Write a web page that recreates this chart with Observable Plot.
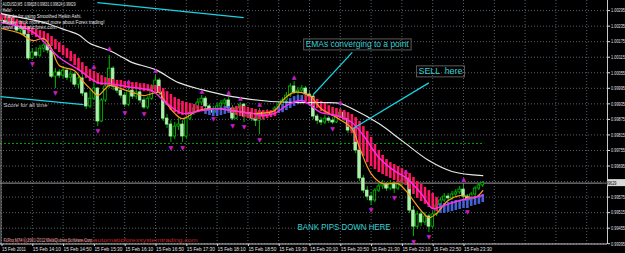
<!DOCTYPE html>
<html><head><meta charset="utf-8">
<script src="https://cdn.jsdelivr.net/npm/d3@7"></script>
<script src="https://cdn.jsdelivr.net/npm/@observablehq/plot@0.6"></script>
<style>html,body{margin:0;padding:0;background:#000;overflow:hidden}</style>
</head><body><div id="chart"></div>
<script>
// ---- AUDUSD M5 candles (bar 0 = 15 Feb 13:30, 5-minute bars) ----
const opens = [1.00264,1.00256,1.00249,1.00264,1.00241,1.00218,1.00226,1.00202,1.00110,1.00133,
1.00121,1.00148,1.00160,1.00141,1.00040,1.00056,1.00044,1.00063,1.00036,1.00048,
1.00009,1.00033,0.99975,0.99925,0.99955,0.99994,0.99867,0.99948,1.00002,1.00071,
1.00002,0.99986,0.99967,0.99932,0.99986,0.99963,0.99979,0.99948,0.99921,0.99955,
0.99994,1.00025,0.99979,0.99878,0.99855,0.99809,0.99847,0.99855,0.99809,0.99878,
0.99901,0.99917,0.99940,0.99955,0.99925,0.99909,0.99901,0.99925,0.99936,0.99948,
0.99917,0.99878,0.99917,0.99932,0.99886,0.99901,0.99878,0.99870,0.99901,0.99886,
0.99901,0.99894,0.99917,0.99932,0.99948,0.99967,1.00002,0.99979,0.99986,0.99994,
0.99971,0.99963,0.99886,0.99870,0.99863,0.99878,0.99870,0.99863,0.99886,0.99901,
0.99878,0.99832,0.99840,0.99755,0.99647,0.99600,0.99577,0.99562,0.99600,0.99616,
0.99624,0.99608,0.99627,0.99608,0.99624,0.99639,0.99647,0.99523,0.99461,0.99508,
0.99477,0.99500,0.99461,0.99508,0.99543,0.99562,0.99577,0.99570,0.99585,0.99593,
0.99604,0.99577,0.99562,0.99585,0.99608,0.99620];
const highs = [1.00272,1.00264,1.00272,1.00268,1.00245,1.00233,1.00229,1.00206,1.00148,1.00152,
1.00160,1.00171,1.00168,1.00144,1.00071,1.00067,1.00079,1.00071,1.00063,1.00056,
1.00044,1.00048,0.99979,0.99986,1.00056,0.99998,0.99955,1.00017,1.00121,1.00079,
1.00009,0.99998,0.99979,1.00002,0.99994,0.99990,0.99986,0.99959,0.99963,1.00009,
1.00048,1.00033,0.99986,0.99894,0.99870,0.99863,0.99878,0.99870,0.99890,0.99917,
0.99932,0.99955,0.99967,0.99963,0.99932,0.99925,0.99936,0.99948,0.99955,0.99959,
0.99928,0.99925,0.99940,0.99936,0.99913,0.99909,0.99898,0.99917,0.99909,0.99913,
0.99909,0.99925,0.99944,0.99959,0.99979,1.00013,1.00021,0.99998,1.00006,1.00002,
0.99982,0.99971,0.99894,0.99882,0.99890,0.99886,0.99882,0.99901,0.99921,0.99909,
0.99886,0.99855,0.99847,0.99763,0.99658,0.99616,0.99593,0.99608,0.99627,0.99639,
0.99631,0.99639,0.99635,0.99635,0.99651,0.99658,0.99651,0.99539,0.99519,0.99519,
0.99516,0.99508,0.99519,0.99554,0.99573,0.99589,0.99589,0.99597,0.99604,0.99616,
0.99624,0.99585,0.99593,0.99616,0.99627,0.99635];
const lows = [1.00249,1.00241,1.00241,1.00233,1.00210,1.00206,1.00191,1.00102,1.00106,1.00110,
1.00114,1.00133,1.00129,1.00033,0.99994,1.00033,1.00033,1.00025,1.00017,0.99998,
0.99994,0.99963,0.99913,0.99917,0.99948,0.99847,0.99863,0.99940,0.99994,0.99986,
0.99975,0.99955,0.99921,0.99925,0.99952,0.99952,0.99936,0.99913,0.99913,0.99948,
0.99986,0.99967,0.99867,0.99840,0.99786,0.99797,0.99832,0.99786,0.99801,0.99870,
0.99890,0.99909,0.99928,0.99909,0.99894,0.99894,0.99898,0.99917,0.99925,0.99909,
0.99870,0.99874,0.99909,0.99863,0.99878,0.99867,0.99847,0.99816,0.99870,0.99878,
0.99882,0.99886,0.99909,0.99925,0.99940,0.99959,0.99971,0.99967,0.99975,0.99959,
0.99952,0.99874,0.99855,0.99851,0.99855,0.99859,0.99855,0.99859,0.99878,0.99867,
0.99820,0.99820,0.99743,0.99635,0.99589,0.99562,0.99543,0.99554,0.99593,0.99604,
0.99597,0.99600,0.99589,0.99600,0.99616,0.99627,0.99512,0.99423,0.99450,0.99461,
0.99465,0.99438,0.99454,0.99500,0.99535,0.99554,0.99558,0.99562,0.99573,0.99585,
0.99570,0.99539,0.99554,0.99577,0.99600,0.99612];
const closes = [1.00256,1.00249,1.00264,1.00241,1.00218,1.00226,1.00202,1.00110,1.00133,1.00121,
1.00148,1.00160,1.00141,1.00040,1.00056,1.00044,1.00063,1.00036,1.00048,1.00009,
1.00033,0.99975,0.99925,0.99955,0.99994,0.99867,0.99948,1.00002,1.00071,1.00002,
0.99986,0.99967,0.99932,0.99986,0.99963,0.99979,0.99948,0.99921,0.99955,0.99994,
1.00025,0.99979,0.99878,0.99855,0.99809,0.99847,0.99855,0.99809,0.99878,0.99901,
0.99917,0.99940,0.99955,0.99925,0.99909,0.99901,0.99925,0.99936,0.99948,0.99917,
0.99878,0.99917,0.99932,0.99886,0.99901,0.99878,0.99870,0.99901,0.99886,0.99901,
0.99894,0.99917,0.99932,0.99948,0.99967,1.00002,0.99979,0.99986,0.99994,0.99971,
0.99963,0.99886,0.99870,0.99863,0.99878,0.99870,0.99863,0.99886,0.99901,0.99878,
0.99832,0.99840,0.99755,0.99647,0.99600,0.99577,0.99562,0.99600,0.99616,0.99624,
0.99608,0.99627,0.99608,0.99624,0.99639,0.99647,0.99523,0.99461,0.99508,0.99477,
0.99500,0.99461,0.99508,0.99543,0.99562,0.99577,0.99570,0.99585,0.99593,0.99604,
0.99577,0.99562,0.99585,0.99608,0.99620,0.99629];

// ---- Smoothed Heikin Ashi (open / close per bar) ----
const haOpen = [1.00280,1.00276,1.00272,1.00268,1.00260,1.00253,1.00245,1.00233,1.00226,1.00222,
1.00218,1.00214,1.00206,1.00195,1.00183,1.00171,1.00160,1.00148,1.00137,1.00125,
1.00110,1.00094,1.00079,1.00067,1.00060,1.00052,1.00044,1.00036,1.00033,1.00029,
1.00025,1.00025,1.00021,1.00021,1.00017,1.00017,1.00013,1.00013,1.00009,1.00006,
1.00006,1.00002,0.99994,0.99982,0.99971,0.99959,0.99952,0.99944,0.99940,0.99936,
0.99932,0.99928,0.99925,0.99894,0.99890,0.99886,0.99886,0.99890,0.99894,0.99898,
0.99921,0.99925,0.99928,0.99925,0.99921,0.99917,0.99913,0.99909,0.99909,0.99909,
0.99909,0.99913,0.99898,0.99901,0.99909,0.99917,0.99925,0.99932,0.99940,0.99967,
0.99963,0.99959,0.99952,0.99944,0.99936,0.99928,0.99921,0.99917,0.99913,0.99909,
0.99901,0.99894,0.99882,0.99867,0.99847,0.99828,0.99805,0.99778,0.99755,0.99736,
0.99720,0.99708,0.99701,0.99693,0.99685,0.99677,0.99666,0.99651,0.99635,0.99624,
0.99612,0.99600,0.99589,0.99573,0.99512,0.99512,0.99516,0.99519,0.99523,0.99527,
0.99531,0.99531,0.99539,0.99543,0.99547,0.99554];
const haClose = [1.00256,1.00253,1.00249,1.00241,1.00233,1.00226,1.00218,1.00206,1.00199,1.00191,
1.00187,1.00179,1.00171,1.00156,1.00144,1.00133,1.00121,1.00110,1.00098,1.00083,
1.00063,1.00048,1.00033,1.00021,1.00017,1.00009,1.00006,1.00006,1.00006,1.00002,
0.99998,0.99998,0.99994,0.99994,0.99990,0.99990,0.99986,0.99982,0.99982,0.99979,
0.99979,0.99975,0.99948,0.99928,0.99909,0.99901,0.99894,0.99890,0.99890,0.99894,
0.99898,0.99901,0.99905,0.99917,0.99917,0.99917,0.99917,0.99921,0.99925,0.99925,
0.99898,0.99890,0.99886,0.99882,0.99878,0.99878,0.99874,0.99874,0.99874,0.99878,
0.99882,0.99886,0.99925,0.99932,0.99944,0.99955,0.99963,0.99967,0.99967,0.99944,
0.99936,0.99925,0.99917,0.99905,0.99898,0.99894,0.99886,0.99882,0.99878,0.99870,
0.99844,0.99820,0.99786,0.99755,0.99732,0.99708,0.99693,0.99681,0.99670,0.99662,
0.99654,0.99647,0.99639,0.99631,0.99627,0.99620,0.99604,0.99585,0.99570,0.99558,
0.99547,0.99535,0.99527,0.99519,0.99550,0.99550,0.99554,0.99558,0.99562,0.99562,
0.99566,0.99570,0.99573,0.99577,0.99581,0.99585];

// ---- moving averages (bar index, value) ----
const magentaBar = [0,8,15,20,25,28,34,39,43,47,52,56,60,65,68,71,74,78,83,87,91,94,98,102,105,109,112,115,119,125];
const magentaVal = [1.00249,1.00214,1.00114,1.00067,1.00017,1.00013,0.99998,0.99986,0.99936,0.99898,
0.99909,0.99917,0.99909,0.99898,0.99890,0.99898,0.99928,0.99948,0.99901,0.99890,
0.99863,0.99813,0.99728,0.99677,0.99651,0.99589,0.99531,0.99543,0.99562,0.99581];
const orangeBar = [0,5,8,11,13,15,19,21,23,25,27,28,31,34,37,41,42,45,47,51,55,60,65,67,71,73,76,80,83,87,91,93,96,99,103,105,109,111,113,116,119,123,125];
const orangeVal = [1.00226,1.00206,1.00179,1.00187,1.00148,1.00083,1.00063,1.00025,0.99994,0.99967,
0.99994,1.00006,0.99994,0.99979,0.99967,0.99979,0.99955,0.99898,0.99878,0.99909,
0.99917,0.99909,0.99898,0.99898,0.99909,0.99948,0.99979,0.99967,0.99917,0.99882,
0.99840,0.99766,0.99666,0.99627,0.99627,0.99600,0.99523,0.99496,0.99512,0.99562,
0.99581,0.99573,0.99600];
const whiteBar = [0,5,11,17,20,23,28,32,34,40,46,52,60,70,78,84,88,91,98,104,111,117,125];
const whiteVal = [1.00283,1.00268,1.00249,1.00218,1.00202,1.00168,1.00141,1.00110,1.00094,1.00067,
1.00017,0.99990,0.99963,0.99944,0.99940,0.99940,0.99936,0.99917,0.99859,0.99793,
0.99716,0.99674,0.99658];

// ---- fractal arrows ----
const fracUpBar = [24,28,33,40,52,59,62,67,76,88,105,120];
const fracUpVal = [1.00079,1.00152,1.00021,1.00067,0.99986,0.99979,0.99959,0.99936,1.00040,0.99940,0.99677,0.99643];
const fracDnBar = [8,14,25,32,37,44,47,55,60,63,67,86,96,102,107,111,121];
const fracDnVal = [1.00087,0.99975,0.99828,0.99901,0.99894,0.99766,0.99766,0.99878,0.99851,0.99844,0.99797,0.99836,0.99523,0.99570,0.99403,0.99419,0.99519];

// ---- drawn objects (cyan lines) ----
const segBar1 = [24.9, -0.26, 91.1, 111.0];
const segVal1 = [1.00326, 0.99963, 1.00134, 1.00016];
const segBar2 = [62.9, 21.3, 81.0, 91.1];
const segVal2 = [1.00268, 0.99932, 0.99971, 0.99838];

const annoText = ["EMAs converging to a point", "SELL\u2002here", "BANK PIPS DOWN HERE"];
const annoBar = [79, 108.3, 76.9];
const annoVal = [1.00164, 1.00060, 0.99458];
const annoBoxed = [true, true, false];
const annoWidth = [103, 44, 93];

const dayOpenLevel = 0.99782;
const lastPrice = 0.99629;

// ---- axes ----
const priceTicks = [0.99395,0.99455,0.99515,0.99575,0.99635,0.99695,0.99755,0.99815,0.99875,0.99935,0.99995,1.00055,1.00115,1.00175,1.00235,1.00295];
const timeTicks = [0,8,16,24,32,40,48,56,64,72,80,88,96,104,112,120];
const timeLabels = ["15 Feb 2011","15 Feb 14:10","15 Feb 14:50","15 Feb 15:30","15 Feb 16:10","15 Feb 16:50","15 Feb 17:30","15 Feb 18:10","15 Feb 18:50","15 Feb 19:30","15 Feb 20:10","15 Feb 20:50","15 Feb 21:30","15 Feb 22:10","15 Feb 22:50","15 Feb 23:30"];
const gridBars = [0,8,16,24,32,40,48,56,64,72,80,88,96,104,112,120,128,136,144,152];

const infoLines = ["AUDUSD,M5  0.99628 0.99631 0.99624 0.99629","Hello!","Thanks for using Smoothed Heikin Ashi.","Please think more and more about Forex trading!","www.automaticforex.com"];
const infoWidth = [73, 9, 79, 102, 54];

// ---- build tables ----
const bars = closes.map((c, i) => ({i, open: opens[i], high: highs[i], low: lows[i], close: c}));
const ha = haOpen.map((o, i) => ({i, o, c: haClose[i]}));
const pts = (b, v) => b.map((x, k) => ({i: x, v: v[k]}));
const segs = segBar1.map((b, k) => ({x1: b, y1: segVal1[k], x2: segBar2[k], y2: segVal2[k]}));
const annos = annoText.map((t, k) => ({t, i: annoBar[k], v: annoVal[k], boxed: annoBoxed[k], w: annoWidth[k]}));

const xDomain = [-0.26, 157.4];
const yDomain = [0.99392, 1.00334];
const FONT = "Liberation Sans, Arial, sans-serif";
const gridColor = "#55606a";
const fmtPrice = d => d.toFixed(5);

const infoMarks = infoLines.map((t, k) => Plot.text([t], {
  frameAnchor: "top-left", dx: 2, dy: 4 + k * 5.75, text: d => d, lineAnchor: "middle",
  textAnchor: "start", fontSize: 5.5, fill: "#e8e8e8"
}));

const chart = Plot.plot({
  width: 625, height: 253,
  marginTop: 0, marginRight: 18, marginBottom: 9, marginLeft: 0,
  x: {domain: xDomain},
  y: {domain: yDomain},
  style: {background: "#000", color: "#e0e0e0", fontFamily: FONT},
  marks: [
    Plot.ruleY(priceTicks, {stroke: gridColor, strokeDasharray: "1,2"}),
    Plot.ruleX(gridBars, {stroke: gridColor, strokeDasharray: "1,2"}),
    Plot.ruleY([dayOpenLevel], {x1: xDomain[0], x2: closes.length - 0.5, stroke: "#00a000", strokeDasharray: "2,2"}),
    Plot.ruleY([lastPrice], {stroke: "#9a9a9a"}),
    Plot.ruleX([xDomain[1]], {stroke: "#c8c8c8"}),
    Plot.ruleX([xDomain[0]], {stroke: "#8a8a8a", dx: 0.5}),
    Plot.ruleY([yDomain[0]], {stroke: "#c8c8c8", dy: -0.5}),
    Plot.axisY(priceTicks.filter(p => p !== 0.99635), {anchor: "right", tickSize: 2, tickPadding: 1.5, fontSize: 5.6, tickFormat: fmtPrice}),
    Plot.axisX(timeTicks, {anchor: "bottom", tickSize: 2, tickPadding: 1, fontSize: 5.2, textAnchor: "start", dx: 0.5, tickFormat: d => timeLabels[timeTicks.indexOf(d)]}),
    // candles
    Plot.ruleX(bars, {x: "i", y1: "low", y2: "high", stroke: "#00b400", strokeWidth: 1}),
    Plot.rect(bars, {
      x1: d => d.i - 0.33, x2: d => d.i + 0.33, y1: "open", y2: "close",
      fill: d => d.close < d.open ? "#aaf2aa" : "#000000",
      stroke: d => d.close < d.open ? "#aaf2aa" : "#00c800", strokeWidth: 0.8
    }),
    // smoothed heikin ashi
    Plot.ruleX(ha, {x: "i", y1: "o", y2: "c", stroke: d => d.c < d.o ? "#ff1660" : "#4462d6", strokeWidth: 2.6}),
    // moving averages
    Plot.line(pts(whiteBar, whiteVal), {x: "i", y: "v", stroke: "#e6e6e6", strokeWidth: 1.2, curve: "catmull-rom"}),
    Plot.line(pts(orangeBar, orangeVal), {x: "i", y: "v", stroke: "#ff9c1a", strokeWidth: 1.2, curve: "catmull-rom"}),
    Plot.line(pts(magentaBar, magentaVal), {x: "i", y: "v", stroke: "#ff2cf0", strokeWidth: 1.4, curve: "catmull-rom"}),
    // fractals
    Plot.text(pts(fracUpBar, fracUpVal), {x: "i", y: "v", text: () => "\u25B2", fill: "#c81ec8", fontSize: 6, fontFamily: "DejaVu Sans"}),
    Plot.text(pts(fracDnBar, fracDnVal), {x: "i", y: "v", text: () => "\u25BC", fill: "#c81ec8", fontSize: 6, fontFamily: "DejaVu Sans"}),
    // cyan objects
    Plot.link(segs, {x1: "x1", y1: "y1", x2: "x2", y2: "y2", stroke: "#18d4e4", strokeWidth: 1.2}),
    Plot.text(annos, {x: "i", y: "v", text: "t", textAnchor: "start", fill: "#38cfd2", fontSize: 9, fontFamily: FONT}),
    // screen labels
    ...infoMarks,
    Plot.text(["Score for all time"], {frameAnchor: "top-left", dx: 3, dy: 105, text: d => d, textAnchor: "start", lineAnchor: "middle", fontSize: 6, fill: "#c8c8c8"}),
    Plot.text(["Copyright \u00A9 2009 http://www.automaticforexsystemtrading.com"], {frameAnchor: "bottom-left", dx: 3, dy: -4.5, text: d => d, textAnchor: "start", lineAnchor: "middle", fontSize: 6, fill: "#c42828"}),
    Plot.text(["FxPro MT4 \u00A9 2001-2011 MetaQuotes Software Corp."], {frameAnchor: "bottom-left", dx: 3, dy: -3.8, text: d => d, textAnchor: "start", lineAnchor: "middle", fontSize: 5, fill: "#a8a8a8"})
  ]
});

document.getElementById("chart").appendChild(chart);

// fit text widths to the screenshot's narrow font
const widths = new Map();
annos.forEach(a => widths.set(a.t, a.w));
infoLines.forEach((t, k) => widths.set(t, infoWidth[k]));
widths.set("Score for all time", 44);
widths.set("Copyright \u00A9 2009 http://www.automaticforexsystemtrading.com", 194);
widths.set("FxPro MT4 \u00A9 2001-2011 MetaQuotes Software Corp.", 90);
timeLabels.forEach((t, k) => widths.set(t, k === 0 ? 24 : 28));
priceTicks.forEach(p => widths.set(fmtPrice(p), 14));
widths.set(fmtPrice(lastPrice), 14);
d3.select(chart).selectAll("text").each(function () {
  const w = widths.get(this.textContent);
  if (w) { this.setAttribute("textLength", w); this.setAttribute("lengthAdjust", "spacingAndGlyphs"); }
});
// boxes round the boxed annotations
const boxedSet = new Set(annos.filter(a => a.boxed).map(a => a.t));
d3.select(chart).selectAll("text").each(function () {
  if (!boxedSet.has(this.textContent)) return;
  const bb = this.getBBox();
  const r = document.createElementNS("http://www.w3.org/2000/svg", "rect");
  r.setAttribute("x", bb.x - 2); r.setAttribute("y", bb.y - 0.5);
  r.setAttribute("width", bb.width + 4); r.setAttribute("height", bb.height + 1);
  r.setAttribute("fill", "none"); r.setAttribute("stroke", "#5a5a5a");
  const tr = this.getAttribute("transform"); if (tr) r.setAttribute("transform", tr);
  this.parentNode.insertBefore(r, this);
});
// current price tag on the price scale
const ys = chart.scale("y"), xs = chart.scale("x");
const yp = ys.apply(lastPrice), xp = xs.apply(xDomain[1]);
const g = d3.select(chart).append("g");
g.append("rect").attr("x", xp + 0.5).attr("y", yp - 3.5).attr("width", 20).attr("height", 7).attr("fill", "#d8d8d8");
g.append("text").attr("x", xp + 2.5).attr("y", yp).attr("dy", "0.35em").attr("font-size", 5.6)
  .attr("fill", "#000").attr("textLength", 14).attr("lengthAdjust", "spacingAndGlyphs").text(fmtPrice(lastPrice));
</script>
</body></html>
